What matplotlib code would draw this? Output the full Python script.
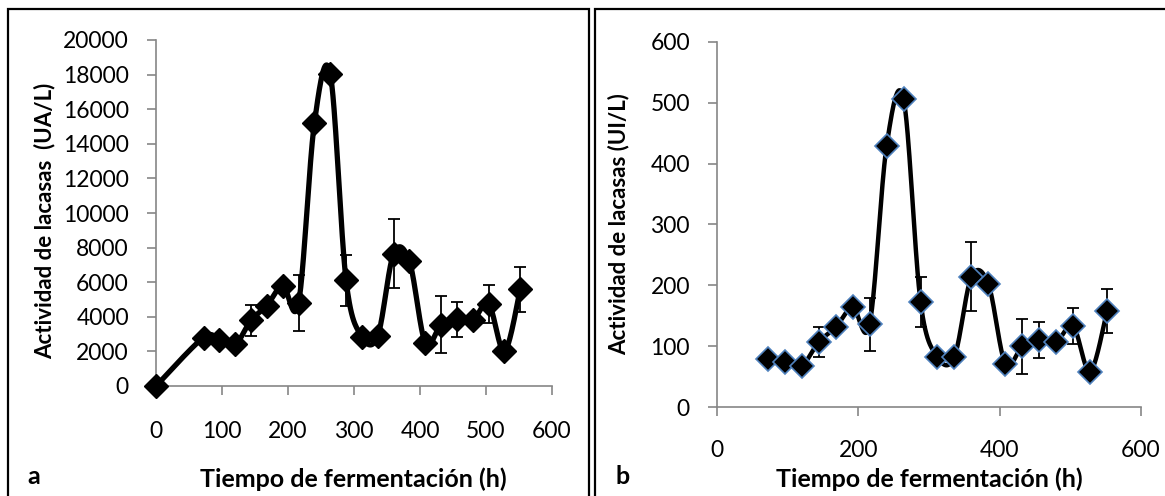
import numpy as np
import matplotlib
matplotlib.use("Agg")
import matplotlib.pyplot as plt
from matplotlib.patches import Rectangle

# ---------------- data ----------------
time_a = [0, 72, 96, 120, 144, 168, 192, 216, 240, 264, 288, 312, 336, 360,
          384, 408, 432, 456, 480, 504, 528, 552]
act_a = [0, 2800, 2650, 2400, 3800, 4650, 5800, 4800, 15200, 18050, 6100,
         2850, 2900, 7650, 7200, 2500, 3550, 3850, 3800, 4750, 2000, 5600]
err_a = [0, 0, 0, 0, 900, 0, 0, 1600, 0, 0, 1500, 0, 0, 2000, 0, 0, 1650,
         1000, 0, 1100, 0, 1300]

time_b = [72, 96, 120, 144, 168, 192, 216, 240, 264, 288, 312, 336, 360,
          384, 408, 432, 456, 480, 504, 528, 552]
act_b = [79, 74, 68, 107, 131, 164, 136, 429, 506, 173, 82, 83, 214, 202,
         71, 100, 110, 107, 133, 58, 158]
err_b = [0, 0, 0, 25, 10, 0, 44, 0, 0, 41, 0, 0, 57, 0, 0, 45, 29, 0, 30,
         0, 36]

yticks_a = [0, 2000, 4000, 6000, 8000, 10000, 12000, 14000, 16000, 18000, 20000]
xticks_a = [0, 100, 200, 300, 400, 500, 600]
yticks_b = [0, 100, 200, 300, 400, 500, 600]
xticks_b = [0, 200, 400, 600]

ylabel_a = "Actividad de lacasas  (UA/L)"
ylabel_b = "Actividad de lacasas (UI/L)"
xlabel = "Tiempo de fermentación (h)"

plt.rcParams['font.family'] = ['Lato', 'DejaVu Sans']

W, H = 1165, 496
fig = plt.figure(figsize=(W / 100, H / 100), dpi=100)


def smooth(x, y, n=30):
    """Excel-style smoothed line (cubic Bezier, control points at 1/6)."""
    x = np.asarray(x, float)
    y = np.asarray(y, float)
    P = np.column_stack([x, y])
    out = []
    m = len(P)
    for i in range(m - 1):
        p0 = P[i - 1] if i > 0 else P[i]
        p1 = P[i]
        p2 = P[i + 1]
        p3 = P[i + 2] if i + 2 < m else P[i + 1]
        c1 = p1 + (p2 - p0) / 6.0
        c2 = p2 - (p3 - p1) / 6.0
        t = np.linspace(0, 1, n)[:, None]
        seg = ((1 - t) ** 3) * p1 + 3 * ((1 - t) ** 2) * t * c1 + \
            3 * (1 - t) * t ** 2 * c2 + t ** 3 * p2
        out.append(seg if i == 0 else seg[1:])
    s = np.vstack(out)
    return s[:, 0], s[:, 1]


def px_axes(l, r, top, bottom):
    return fig.add_axes([l / W, (H - bottom) / H, (r - l) / W, (bottom - top) / H])


gray = '#868686'


def style(ax):
    for s in ['top', 'right']:
        ax.spines[s].set_visible(False)
    for s in ['left', 'bottom']:
        ax.spines[s].set_color(gray)
        ax.spines[s].set_linewidth(1.2)
    ax.tick_params(direction='out', length=6.5, width=1.2, color=gray,
                   labelsize=16.5, labelcolor='black')


# ---------------- panel a ----------------
axa = px_axes(156, 552, 40, 386)
style(axa)
sx, sy = smooth(time_a, act_a)
ea = np.array(err_a, float)
mask = ea > 0
axa.errorbar(np.array(time_a)[mask], np.array(act_a)[mask], yerr=ea[mask],
             fmt='none', ecolor='black', elinewidth=1.3, capsize=4.5,
             capthick=1.3, zorder=2)
axa.plot(sx, sy, color='black', lw=3.8, zorder=3, solid_capstyle='round')
axa.plot(time_a, act_a, ls='none', marker='D', ms=12, mfc='black',
         mec='black', zorder=4, clip_on=False)
axa.set_xlim(0, 600)
axa.set_ylim(0, 20000)
axa.set_xticks(xticks_a)
axa.set_yticks(yticks_a)
axa.tick_params(axis='y', pad=13)
axa.tick_params(axis='x', pad=19)

# ---------------- panel b ----------------
axb = px_axes(717, 1141, 42, 407)
style(axb)
sx, sy = smooth(time_b, act_b)
eb = np.array(err_b, float)
mask = eb > 0
axb.errorbar(np.array(time_b)[mask], np.array(act_b)[mask], yerr=eb[mask],
             fmt='none', ecolor='black', elinewidth=1.3, capsize=4.5,
             capthick=1.3, zorder=2)
axb.plot(sx, sy, color='black', lw=3.2, zorder=3, solid_capstyle='round')
axb.plot(time_b, act_b, ls='none', marker='D', ms=12, mfc='black',
         mec='#4F81BD', mew=1.2, zorder=4, clip_on=False)
axb.set_xlim(0, 600)
axb.set_ylim(0, 600)
axb.set_xticks(xticks_b)
axb.set_yticks(yticks_b)
axb.tick_params(axis='y', pad=13)
axb.tick_params(axis='x', pad=17)

# ---------------- labels ----------------
def ftext(x, y, s, **kw):
    fig.text(x / W, 1 - y / H, s, **kw)


ftext(45, 221, ylabel_a, rotation=90, ha='center', va='center',
      fontsize=16, fontweight='bold')
ftext(619, 224, ylabel_b, rotation=90, ha='center', va='center',
      fontsize=16, fontweight='bold')
ftext(353, 479, xlabel, ha='center', va='center', fontsize=18,
      fontweight='bold')
ftext(929, 479, xlabel, ha='center', va='center', fontsize=18,
      fontweight='bold')
ftext(34, 476, 'a', ha='center', va='center', fontsize=18, fontweight='bold')
ftext(623, 476, 'b', ha='center', va='center', fontsize=18, fontweight='bold')

# ---------------- frames ----------------
for (l, r) in [(8, 589), (595, 1175)]:
    fig.patches.append(Rectangle((l / W, -0.05), (r - l) / W, 1.05 - 9 / H,
                                 transform=fig.transFigure, fill=False,
                                 edgecolor='black', lw=1.6))

fig.savefig('out.png', dpi=100)
